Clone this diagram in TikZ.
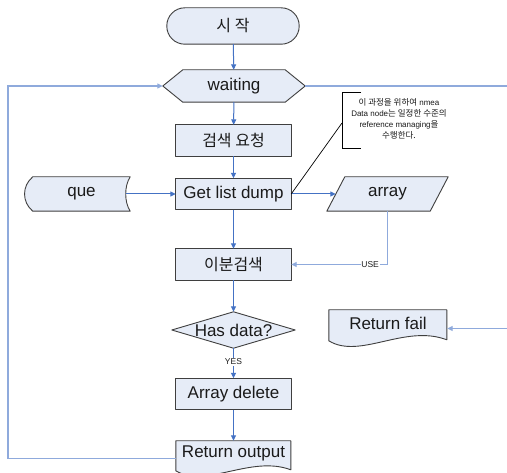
\documentclass[tikz,border=0pt]{standalone}
\usepackage{fontspec}
\setmainfont{Liberation Sans}
\newfontfamily\kr{Noto Sans CJK KR}
\usetikzlibrary{calc,arrows.meta}
\pgfdeclarelayer{bg}
\pgfsetlayers{bg,main}
\definecolor{boxfill}{HTML}{E6ECF7}
\definecolor{boxline}{HTML}{3F3F3F}
\definecolor{flow}{HTML}{4472C4}
\definecolor{loopc}{HTML}{8FAADC}
\definecolor{txt}{HTML}{1A1A1A}
\newcommand\krbig{\kr\fontsize{16}{16}\selectfont}
\newcommand\krsmall{\kr\fontsize{8.5}{11}\selectfont}
\begin{document}
\begin{tikzpicture}[x=1pt,y=-1pt,
  tbox/.style={inner sep=0pt, text=txt, font=\fontsize{17}{17}\selectfont},
  shp/.style={fill=boxfill, draw=boxline, line width=0.9pt, line join=round},
  tip/.style={-{Triangle[length=5.5pt,width=5pt]}},
  arr/.style={draw=flow, line width=1pt, tip},
  lp/.style={draw=loopc, line width=1.2pt},
  lab/.style={fill=white, inner sep=0.8pt, text=txt, font=\fontsize{8.5}{9}\selectfont}]
\useasboundingbox (0,0) rectangle (507,473);

% nodes
\node[tbox, minimum width=132pt, minimum height=36pt] (start) at (233,26) {\krbig 시 작};
\node[tbox, minimum width=142pt, minimum height=32pt] (waiting) at (234,86) {waiting};
\node[tbox, minimum width=115pt, minimum height=31pt] (search) at (233.5,140.5) {\krbig 검색 요청};
\node[tbox, minimum width=115pt, minimum height=31pt] (getlist) at (233.5,194) {Get list dump};
\node[tbox, minimum width=97pt, minimum height=34pt] (que) at (81.5,194) {que};
\node[tbox, minimum width=121pt, minimum height=34pt] (array) at (387.5,194) {array};
\node[tbox, minimum width=115pt, minimum height=31pt] (bsearch) at (233.5,264.5) {\krbig 이분검색};
\node[tbox, minimum width=123pt, minimum height=36pt] (hasdata) at (233.5,330) {Has data?};
\node[tbox, minimum width=115pt, minimum height=31pt] (delete) at (233.5,394) {Array delete};
\node[inner sep=0pt, minimum width=115pt, minimum height=35pt] (output) at (233.5,458.5) {};
\node[tbox] (outputtext) at (233.5,453) {Return output};
\node[inner sep=0pt, minimum width=118pt, minimum height=37pt] (fail) at (388,328.5) {};
\node[tbox] (failtext) at (388,323) {Return fail};
\node[inner sep=0pt, align=center, text=txt, font=\fontsize{8}{11}\selectfont] (note) at (399,118.5)
  {{\krsmall 이 과정을 위하여} nmea\\Data node{\krsmall 는 일정한 수준의}\\reference managing{\krsmall 을}\\{\krsmall 수행한다.}};
\coordinate (brk) at (342,123);
\coordinate (lpb) at (8,458.5);
\coordinate (re) at (507,86);
\coordinate (rf) at (507,328.5);

% shapes
\begin{pgfonlayer}{bg}
\fill[white] (0,0) rectangle (507,473);
\draw[shp, rounded corners=18pt] (start.north west) rectangle (start.south east);
\draw[shp] (waiting.west) -- ($(waiting.north west)+(20,0)$) -- ($(waiting.north east)+(-20,0)$)
  -- (waiting.east) -- ($(waiting.south east)+(-20,0)$) -- ($(waiting.south west)+(20,0)$) -- cycle;
\draw[shp] (search.north west) rectangle (search.south east);
\draw[shp] (getlist.north west) rectangle (getlist.south east);
\draw[shp] (bsearch.north west) rectangle (bsearch.south east);
\draw[shp] (delete.north west) rectangle (delete.south east);
\draw[shp] (que.north west) -- (que.north east)
  .. controls ($(que.north east)+(-6,9)$) and ($(que.south east)+(-6,-9)$) .. (que.south east)
  -- (que.south west)
  .. controls ($(que.south west)+(-11,-9)$) and ($(que.north west)+(-11,9)$) .. (que.north west) -- cycle;
\draw[shp] ($(array.north west)+(18,0)$) -- (array.north east) -- ($(array.south east)+(-18,0)$)
  -- (array.south west) -- cycle;
\draw[shp] (hasdata.west) -- (hasdata.north) -- (hasdata.east) -- (hasdata.south) -- cycle;
\draw[shp, shift={(fail.north west)}] (0,0) -- (118,0) -- (118,30)
  .. controls (76,14) and (31,50) .. (0,31) -- cycle;
\draw[shp, shift={(output.north west)}] (0,0) -- (115,0) -- (115,29)
  .. controls (75,14) and (30,48) .. (0,30) -- cycle;
\end{pgfonlayer}

% connectors
\draw[arr] (start) -- (waiting);
\draw[arr] (waiting) -- (search);
\draw[arr] (search) -- (getlist);
\draw[arr] ($(que.east)+(-4.5,0)$) -- (getlist.west);
\draw[arr] (getlist.east) -- ($(array.west)+(9,0)$);
\draw[arr] (getlist) -- (bsearch);
\draw[lp, tip] (array.south) |- (bsearch.east) node[lab, pos=0.59] {USE};
\draw[arr] (bsearch) -- (hasdata);
\draw[arr] (hasdata.south) -- (delete.north) node[lab, pos=0.45] {YES};
\draw[arr] (delete) -- (output.north);
\draw[lp, tip] (output.west) -- (lpb) |- (waiting.west);
\draw[lp] (waiting.east) -- (re);
\draw[lp, tip] (rf) -- (fail.east);
\draw[black, line width=0.7pt] (getlist.east) -- (brk);
\draw[black, line width=0.8pt] (361,92) -- (342,92) -- (342,148) -- (361,148);
\end{tikzpicture}
\end{document}
